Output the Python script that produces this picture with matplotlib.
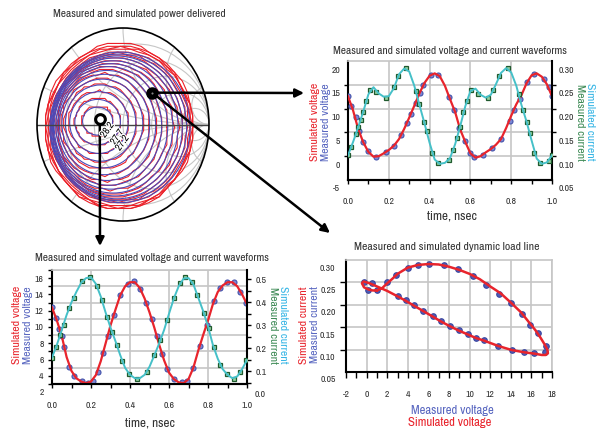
import numpy as np
import matplotlib.pyplot as plt
import matplotlib.patheffects as pe
from matplotlib import font_manager
from matplotlib.patches import Circle, Ellipse
from matplotlib.transforms import blended_transform_factory

# condensed face if the system has one, otherwise shrink the text a little
fonts = font_manager.fontManager.ttflist
narrow = [f.name for f in fonts if 'Narrow' in f.name or 'Condensed' in f.name]
have_cond = any(f.name == 'DejaVu Sans' and f.stretch == 'condensed' for f in fonts)
if narrow:
    plt.rcParams['font.family'] = [narrow[0], 'DejaVu Sans']
    FS = 1.0
elif have_cond:
    plt.rcParams['font.family'] = ['DejaVu Sans']
    plt.rcParams['font.stretch'] = 'condensed'
    FS = 0.86
else:
    plt.rcParams['font.family'] = ['DejaVu Sans']
    FS = 0.77

W, H = 602, 429

# ---------------------------------------------
# data

# waveforms at the load point on the right (upper plot)
t_grid = np.linspace(0, 1, 41)
v1_sim = [14.3, 11.3, 7.4, 4.6, 2.6, 1.6, 1.7, 2.3, 3.0, 3.9, 5.3, 7.4, 9.8, 12.3, 14.9,
          17.1, 18.6, 19.1, 18.5, 16.5, 13.7, 11.0, 7.3, 4.7, 2.3, 1.4, 1.7, 2.5, 3.2, 4.1,
          5.3, 7.6, 10.2, 12.6, 14.5, 17.0, 18.7, 19.1, 18.4, 16.8, 14.3]
i1_sim = [0.119, 0.147, 0.178, 0.211, 0.247, 0.262, 0.249, 0.242, 0.243, 0.260, 0.289,
          0.301, 0.295, 0.265, 0.225, 0.186, 0.145, 0.110, 0.101, 0.103, 0.113, 0.142,
          0.180, 0.222, 0.254, 0.259, 0.246, 0.240, 0.246, 0.268, 0.292, 0.302, 0.293,
          0.265, 0.225, 0.190, 0.150, 0.112, 0.101, 0.104, 0.119]
v1_meas_t = [0.0, 0.016, 0.038, 0.054, 0.074, 0.098, 0.136, 0.185, 0.226, 0.262, 0.287,
             0.308, 0.331, 0.352, 0.369, 0.405, 0.443, 0.495, 0.521, 0.546, 0.574, 0.598,
             0.62, 0.664, 0.705, 0.751, 0.792, 0.816, 0.844, 0.877, 0.91, 0.959, 0.984, 1.0]
v1_meas = [14.3, 12.2, 9.85, 6.9, 4.7, 2.7, 1.5, 2.6, 3.9, 6.2, 8.6, 10.5, 12.9, 14.9, 16.7,
           18.8, 18.8, 14.1, 11.4, 7.6, 4.8, 2.4, 1.5, 2.0, 3.4, 5.3, 9.0, 11.4, 13.8, 17.2,
           19.0, 17.9, 16.2, 14.3]
i1_meas_t = [0.0, 0.016, 0.038, 0.05, 0.062, 0.074, 0.09, 0.107, 0.139, 0.185, 0.226, 0.246,
             0.284, 0.331, 0.349, 0.372, 0.385, 0.413, 0.44, 0.495, 0.516, 0.533, 0.549,
             0.566, 0.582, 0.602, 0.639, 0.685, 0.713, 0.738, 0.782, 0.836, 0.857, 0.877,
             0.893, 0.91, 0.939, 0.984, 1.0]
i1_meas = [0.119, 0.136, 0.164, 0.178, 0.193, 0.210, 0.234, 0.256, 0.252, 0.240, 0.262,
           0.286, 0.302, 0.255, 0.227, 0.189, 0.169, 0.124, 0.103, 0.110, 0.131, 0.155,
           0.179, 0.210, 0.234, 0.256, 0.248, 0.240, 0.256, 0.286, 0.302, 0.248, 0.214,
           0.189, 0.165, 0.124, 0.103, 0.107, 0.119]

# waveforms at the optimum load point (lower plot)
v2_sim = [12.4, 10.8, 8.9, 6.3, 4.6, 3.7, 3.3, 3.1, 3.3, 4.1, 5.8, 8.0, 10.2, 12.1, 13.9,
          15.0, 15.5, 15.5, 14.8, 13.5, 11.8, 9.9, 7.8, 5.9, 4.4, 3.6, 3.2, 3.1, 3.6, 5.0,
          7.1, 9.0, 10.8, 12.8, 14.3, 15.1, 15.5, 15.5, 15.0, 14.0, 12.8]
i2_sim = [0.160, 0.215, 0.280, 0.345, 0.400, 0.445, 0.485, 0.505, 0.508, 0.480, 0.425,
          0.355, 0.290, 0.232, 0.170, 0.115, 0.085, 0.070, 0.070, 0.085, 0.120, 0.170,
          0.222, 0.280, 0.350, 0.417, 0.470, 0.503, 0.505, 0.478, 0.420, 0.362, 0.295,
          0.215, 0.155, 0.110, 0.085, 0.070, 0.078, 0.110, 0.150]
v2_meas_t = [0.0, 0.022, 0.034, 0.051, 0.060, 0.085, 0.115, 0.154, 0.183, 0.210, 0.234,
             0.262, 0.287, 0.316, 0.350, 0.388, 0.419, 0.453, 0.484, 0.513, 0.538, 0.564,
             0.590, 0.624, 0.667, 0.692, 0.723, 0.757, 0.795, 0.829, 0.863, 0.897, 0.932,
             0.966, 0.997]
v2_meas = [12.4, 11.1, 9.8, 8.9, 7.6, 5.1, 4.0, 3.4, 3.1, 3.4, 4.5, 6.8, 8.9, 11.5, 13.9,
           15.3, 15.6, 14.7, 13.0, 11.0, 8.9, 6.7, 4.8, 3.6, 3.2, 3.4, 5.0, 7.7, 10.2, 13.2,
           14.8, 15.5, 15.5, 14.3, 13.0]
i2_meas_t = [0.0, 0.022, 0.039, 0.060, 0.085, 0.115, 0.154, 0.197, 0.231, 0.256, 0.282,
             0.308, 0.333, 0.359, 0.393, 0.436, 0.487, 0.525, 0.556, 0.590, 0.624, 0.658,
             0.684, 0.718, 0.744, 0.778, 0.803, 0.829, 0.863, 0.897, 0.932, 0.966, 0.997]
i2_meas = [0.160, 0.206, 0.257, 0.300, 0.373, 0.417, 0.494, 0.509, 0.471, 0.410, 0.337,
           0.272, 0.214, 0.145, 0.090, 0.068, 0.097, 0.170, 0.235, 0.323, 0.417, 0.483,
           0.509, 0.490, 0.432, 0.355, 0.286, 0.206, 0.126, 0.090, 0.068, 0.097, 0.148]

# dynamic load line
ll_v_sim = [1.0, 1.5, 2.0, 2.5, 3.0, 4.0, 5.0, 6.0, 7.0, 8.0, 9.0, 10.0, 11.0, 12.0, 13.0,
            14.0, 15.0, 15.8, 16.4, 16.9, 17.3, 17.55, 17.6, 17.4, 17.0, 16.3, 15.3, 14.1,
            12.8, 11.4, 10.6, 9.8, 8.9, 8.1, 7.2, 6.4, 5.5, 4.6, 3.8, 3.0, 2.0, 1.0, 0.3,
            -0.3, -0.45, -0.25, 0.2, 0.6, 1.0]
ll_i_sim = [0.248, 0.253, 0.264, 0.274, 0.285, 0.299, 0.305, 0.307, 0.306, 0.301, 0.294,
            0.285, 0.273, 0.257, 0.242, 0.221, 0.199, 0.176, 0.159, 0.142, 0.127, 0.116,
            0.108, 0.104, 0.104, 0.107, 0.110, 0.115, 0.124, 0.136, 0.142, 0.150, 0.159,
            0.168, 0.179, 0.190, 0.202, 0.214, 0.225, 0.235, 0.247, 0.257, 0.264, 0.268,
            0.264, 0.255, 0.250, 0.248, 0.248]
ll_v_meas = [-0.3, 0.15, 0.5, 1.05, 2.0, 2.85, 4.0, 5.0, 6.1, 7.5, 8.9, 10.3, 11.6, 12.9,
             14.05, 15.1, 15.9, 16.6, 17.45, 17.3, 16.3, 15.3, 14.1, 12.8, 11.4, 10.6, 9.8,
             8.95, 8.1, 7.2, 6.4, 5.5, 4.6, 3.8, 3.0]
ll_i_meas = [0.267, 0.249, 0.265, 0.249, 0.267, 0.283, 0.299, 0.305, 0.307, 0.304, 0.295,
             0.280, 0.261, 0.241, 0.219, 0.196, 0.171, 0.154, 0.124, 0.111, 0.109, 0.111,
             0.116, 0.125, 0.137, 0.143, 0.151, 0.160, 0.169, 0.180, 0.191, 0.203, 0.215,
             0.226, 0.236]

# power contours on the Smith chart (extents in reflection-coefficient units)
sim_left = [-0.47, -0.56, -0.62, -0.67, -0.71, -0.74, -0.76, -0.78, -0.80, -0.81, -0.82, -0.83, -0.84, -0.85]
sim_right = [-0.12, -0.03, 0.06, 0.15, 0.23, 0.31, 0.38, 0.45, 0.52, 0.58, 0.64, 0.69, 0.74, 0.78]
sim_top = [0.18, 0.26, 0.34, 0.41, 0.47, 0.52, 0.56, 0.60, 0.63, 0.66, 0.69, 0.71, 0.73, 0.75]
sim_bottom = [-0.11, -0.21, -0.30, -0.38, -0.45, -0.52, -0.58, -0.63, -0.67, -0.71, -0.74, -0.77, -0.79, -0.81]
meas_left = [-0.48, -0.565, -0.63, -0.68, -0.72, -0.75, -0.77, -0.79, -0.81, -0.82, -0.83, -0.84,
             -0.85, -0.86, -0.875, -0.89, -0.90, -0.91]
meas_right = [-0.11, -0.025, 0.065, 0.155, 0.235, 0.315, 0.385, 0.455, 0.525, 0.585, 0.645, 0.695,
              0.74, 0.77, 0.79, 0.80, 0.81, 0.82]
meas_top = [0.19, 0.265, 0.345, 0.415, 0.475, 0.525, 0.565, 0.605, 0.635, 0.665, 0.695, 0.715,
            0.74, 0.76, 0.78, 0.80, 0.82, 0.84]
meas_bottom = [-0.115, -0.215, -0.305, -0.385, -0.455, -0.525, -0.585, -0.635, -0.675, -0.715,
               -0.745, -0.775, -0.80, -0.82, -0.84, -0.86, -0.87, -0.88]
contour_labels = ['28.2', '27.7', '27.2']
gamma_opt = (-0.27, 0.06)      # optimum load (lower waveforms)
gamma_other = (0.34, 0.33)     # second load (upper waveforms)

# ---------------------------------------------
RED = '#e8242c'
BLUE = '#5866c0'
CYAN = '#45c0c8'
GRID = '#c6c6c6'
TXT = '#333333'
LAB_GREEN = '#3d8a55'
LAB_CYAN = '#35b5e5'
TICK_FS = 7.0 * FS
TITLE_FS = 8.2 * FS
LAB_FS = 8.5 * FS

fig = plt.figure(figsize=(W / 100, H / 100), dpi=100)


def fpos(x0, y0, x1, y1):
    return [x0 / W, 1 - y1 / H, (x1 - x0) / W, (y1 - y0) / H]


def ftext(x, y, s, **kw):
    return fig.text(x / W, 1 - y / H, s, ha='center', va='center', **kw)


def extra_label(ax, y, s, right=False, off=5.8):
    tr = blended_transform_factory(ax.transAxes, ax.transData)
    ax.annotate(s, xy=(1 if right else 0, y), xycoords=tr,
                xytext=(off if right else -off, 0), textcoords='offset points',
                ha='left' if right else 'right', va='center', fontsize=TICK_FS,
                fontweight='bold', color=TXT, annotation_clip=False)


def base_style(ax):
    ax.set_facecolor('none')
    ax.set_axisbelow(True)
    ax.tick_params(which='both', direction='out', length=3, width=1, colors='black',
                   labelcolor=TXT, labelsize=TICK_FS)
    for side in ['left', 'bottom', 'right']:
        ax.spines[side].set_linewidth(1.5)
    ax.spines['top'].set_color(GRID)
    ax.spines['top'].set_linewidth(1.2)


def time_axis(ax):
    ax.set_xlim(0, 1)
    ax.set_xticks(np.arange(0, 1.01, 0.2))
    ax.set_xticklabels(['0.0', '0.2', '0.4', '0.6', '0.8', '1.0'], fontweight='bold')
    ax.set_xticks(np.arange(0, 1.01, 0.1), minor=True)
    ax.tick_params(axis='x', which='both', pad=9.5)
    ax.grid(True, axis='x', which='major', color=GRID, lw=1.2)


def meas_dots(ax, x, y):
    ax.plot(x, y, 'o', ms=3.6, mfc='#7a88d6', mec='#4452aa', mew=0.8, zorder=3)


def meas_squares(ax, x, y):
    ax.plot(x, y, 's', ms=3.3, mfc='#94d0a0', mec='#1f5a2e', mew=0.9, zorder=3)


# ---------------------------------------------
# upper waveform plot
ax1 = fig.add_axes(fpos(348, 61, 552, 180))
base_style(ax1)
time_axis(ax1)
ax1.set_ylim(-3.3, 21.7)
ax1.set_yticks([0, 5, 10, 15, 20])
ax1.set_yticklabels(['0', '5', '10', '15', '20'], fontweight='bold')
ax1.set_yticks([1.7, 6.7, 11.7, 16.7], minor=True)
ax1.tick_params(axis='y', which='major', length=0, pad=5.5)
ax1.grid(True, axis='y', which='minor', color=GRID, lw=1.2)
ax1.spines['right'].set_visible(False)
extra_label(ax1, -5, '-5', off=5.5)
meas_dots(ax1, v1_meas_t, v1_meas)
ax1.plot(t_grid, v1_sim, color=RED, lw=1.6, zorder=4)

ax1b = ax1.twinx()
base_style(ax1b)
ax1b.spines['left'].set_visible(False)
ax1b.spines['top'].set_visible(False)
ax1b.set_ylim(0.067, 0.317)
ax1b.set_yticks([0.10, 0.15, 0.20, 0.25, 0.30])
ax1b.set_yticklabels(['0.10', '0.15', '0.20', '0.25', '0.30'], fontweight='bold')
ax1b.set_yticks([0.117, 0.167, 0.217, 0.267], minor=True)
ax1b.tick_params(axis='y', which='major', length=0, pad=4.5)
extra_label(ax1b, 0.05, '0.05', right=True, off=4.5)
meas_squares(ax1b, i1_meas_t, i1_meas)
ax1b.plot(t_grid, i1_sim, color=CYAN, lw=1.4, zorder=4)

ftext(450, 51, 'Measured and simulated voltage and current waveforms', fontsize=TITLE_FS, color=TXT)
ftext(452, 216, 'time, nsec', fontsize=9.5 * FS, color=TXT)
ftext(315, 122, 'Simulated voltage', fontsize=LAB_FS, color=RED, rotation=90)
ftext(326, 122, 'Measured voltage', fontsize=LAB_FS, color=BLUE, rotation=90)
ftext(580, 122, 'Measured current', fontsize=LAB_FS, color=LAB_GREEN, rotation=270)
ftext(590, 122, 'Simulated current', fontsize=LAB_FS, color=LAB_CYAN, rotation=270)

# ---------------------------------------------
# lower waveform plot
ax2 = fig.add_axes(fpos(52, 270, 247, 384))
base_style(ax2)
time_axis(ax2)
ax2.set_ylim(3, 17)
ax2.set_yticks([4, 6, 8, 10, 12, 14, 16])
ax2.set_yticklabels(['4', '6', '8', '10', '12', '14', '16'], fontweight='bold')
ax2.set_yticks([3, 5, 7, 9, 11, 13, 15, 17], minor=True)
ax2.tick_params(axis='y', which='major', pad=3)
ax2.grid(True, axis='y', which='minor', color=GRID, lw=1.2)
ax2.spines['right'].set_visible(False)
extra_label(ax2, 2, '2', off=5.5)
meas_dots(ax2, v2_meas_t, v2_meas)
ax2.plot(t_grid, v2_sim, color=RED, lw=1.6, zorder=4)

ax2b = ax2.twinx()
base_style(ax2b)
ax2b.spines['left'].set_visible(False)
ax2b.spines['top'].set_visible(False)
ax2b.set_ylim(0.045, 0.54)
ax2b.set_yticks([0.1, 0.2, 0.3, 0.4, 0.5])
ax2b.set_yticklabels(['0.1', '0.2', '0.3', '0.4', '0.5'], fontweight='bold')
ax2b.set_yticks([0.05, 0.15, 0.25, 0.35, 0.45], minor=True)
ax2b.tick_params(axis='y', which='major', pad=3)
extra_label(ax2b, 0.0, '0.0', right=True, off=5.5)
meas_squares(ax2b, i2_meas_t, i2_meas)
ax2b.plot(t_grid, i2_sim, color=CYAN, lw=1.4, zorder=4)

ftext(152, 258, 'Measured and simulated voltage and current waveforms', fontsize=TITLE_FS, color=TXT)
ftext(150, 423, 'time, nsec', fontsize=9.5 * FS, color=TXT)
ftext(17, 325, 'Simulated voltage', fontsize=LAB_FS, color=RED, rotation=90)
ftext(28, 325, 'Measured voltage', fontsize=LAB_FS, color=BLUE, rotation=90)
ftext(273, 325, 'Measured current', fontsize=LAB_FS, color=LAB_GREEN, rotation=270)
ftext(283, 325, 'Simulated current', fontsize=LAB_FS, color=LAB_CYAN, rotation=270)

# ---------------------------------------------
# dynamic load line
ax3 = fig.add_axes(fpos(346, 260, 552, 372))
base_style(ax3)
ax3.spines['right'].set_color(GRID)
ax3.spines['right'].set_linewidth(1.2)
ax3.set_xlim(-2, 18)
ax3.set_xticks(np.arange(-2, 19, 2))
ax3.set_xticklabels([str(v) for v in range(-2, 19, 2)], fontweight='bold')
ax3.set_xticks(np.arange(-2, 19, 1), minor=True)
ax3.tick_params(axis='x', which='both', length=4, pad=9)
ax3.grid(True, axis='x', which='major', color=GRID, lw=1.2)
ax3.set_ylim(0.066, 0.316)
ax3.set_yticks([0.10, 0.15, 0.20, 0.25, 0.30])
ax3.set_yticklabels(['0.10', '0.15', '0.20', '0.25', '0.30'], fontweight='bold')
ax3.set_yticks([0.116, 0.166, 0.216, 0.266], minor=True)
ax3.tick_params(axis='y', which='major', length=0, pad=7.5)
ax3.tick_params(axis='y', which='minor', length=4)
ax3.grid(True, axis='y', which='minor', color=GRID, lw=1.2)
extra_label(ax3, 0.05, '0.05', off=7.5)
ax3.plot(ll_v_meas, ll_i_meas, 'o', ms=4.0, mfc='#4e5cb6', mec='#3a46a0', mew=0.8, zorder=3)
ax3.plot(ll_v_sim, ll_i_sim, color=RED, lw=1.8, zorder=4)

ftext(447, 247, 'Measured and simulated dynamic load line', fontsize=TITLE_FS * 1.03, color=TXT)
ftext(452, 411, 'Measured voltage', fontsize=9.2 * FS, color=BLUE)
ftext(450, 422, 'Simulated voltage', fontsize=9.2 * FS, color=RED)
ftext(304, 325, 'Simulated current', fontsize=LAB_FS, color=RED, rotation=90)
ftext(315, 325, 'Measured current', fontsize=LAB_FS, color=BLUE, rotation=90)

# ---------------------------------------------
# Smith chart with power contours
axs = fig.add_axes(fpos(37, 28, 209, 221))
axs.set_xlim(-1, 1)
axs.set_ylim(-1, 1)
axs.axis('off')
unit = Circle((0, 0), 1, transform=axs.transData, fc='none', ec='none')
axs.add_patch(unit)

for r in [0.2, 0.5, 1, 2, 5]:
    c = Circle((r / (1 + r), 0), 1 / (1 + r), fc='none', ec=GRID, lw=0.8, zorder=1)
    axs.add_patch(c)
    c.set_clip_path(unit)
for x in [0.2, 0.5, 1, 2, 5]:
    for s in (1, -1):
        c = Circle((1, s / x), 1 / x, fc='none', ec=GRID, lw=0.8, zorder=1)
        axs.add_patch(c)
        c.set_clip_path(unit)

# measured contours come from a coarse grid of load points, hence the corners
th = np.linspace(0, 2 * np.pi, 45)
for l, r, t, b in zip(meas_left, meas_right, meas_top, meas_bottom):
    cx, cy, a, bb = (l + r) / 2, (t + b) / 2, (r - l) / 2, (t - b) / 2
    xs = np.round((cx + a * np.cos(th)) / 0.03) * 0.03
    ys = np.round((cy + bb * np.sin(th)) / 0.03) * 0.03
    ln, = axs.plot(xs, ys, color='#ec2028', lw=0.8, zorder=2)
    ln.set_clip_path(unit)
for l, r, t, b in zip(sim_left, sim_right, sim_top, sim_bottom):
    e = Ellipse(((l + r) / 2, (t + b) / 2), r - l, t - b, fc='none', ec='#4a4ab8',
                lw=0.8, zorder=3)
    axs.add_patch(e)
    e.set_clip_path(unit)

axs.plot([-1, 1], [0, 0], color='#444444', lw=1.0, zorder=3.5)
axs.add_patch(Circle((0, 0), 1, fc='none', ec='black', lw=1.2, zorder=4, clip_on=False))

axs.plot(*gamma_opt, 'o', ms=7, mfc='white', mec='black', mew=2.2, zorder=6)
axs.plot(*gamma_other, 'o', ms=8, mfc='black', mec='black', zorder=6)
axs.plot(*gamma_other, 'o', ms=1.5, mfc='#888888', mec='none', zorder=7)

arrow = dict(arrowstyle='-|>,head_length=0.5,head_width=0.25', lw=1.8, color='black',
             shrinkA=0, shrinkB=0)
for tip, start in [((304, 93), gamma_other), ((330, 233), gamma_other), ((100, 246), gamma_opt)]:
    axs.annotate('', xy=(tip[0] / W, 1 - tip[1] / H), xycoords='figure fraction',
                 xytext=start, textcoords='data', arrowprops=arrow, annotation_clip=False,
                 zorder=5)

for lab, (x, y) in zip(contour_labels, [(107, 130), (117, 137), (122, 143)]):
    tx = ftext(x, y, lab, fontsize=7.4 * FS, color='black', rotation=55)
    tx.set_path_effects([pe.withStroke(linewidth=1.6, foreground='white')])

ftext(139, 14, 'Measured and simulated power delivered', fontsize=TITLE_FS, color=TXT)

fig.savefig('out.png', dpi=100)
